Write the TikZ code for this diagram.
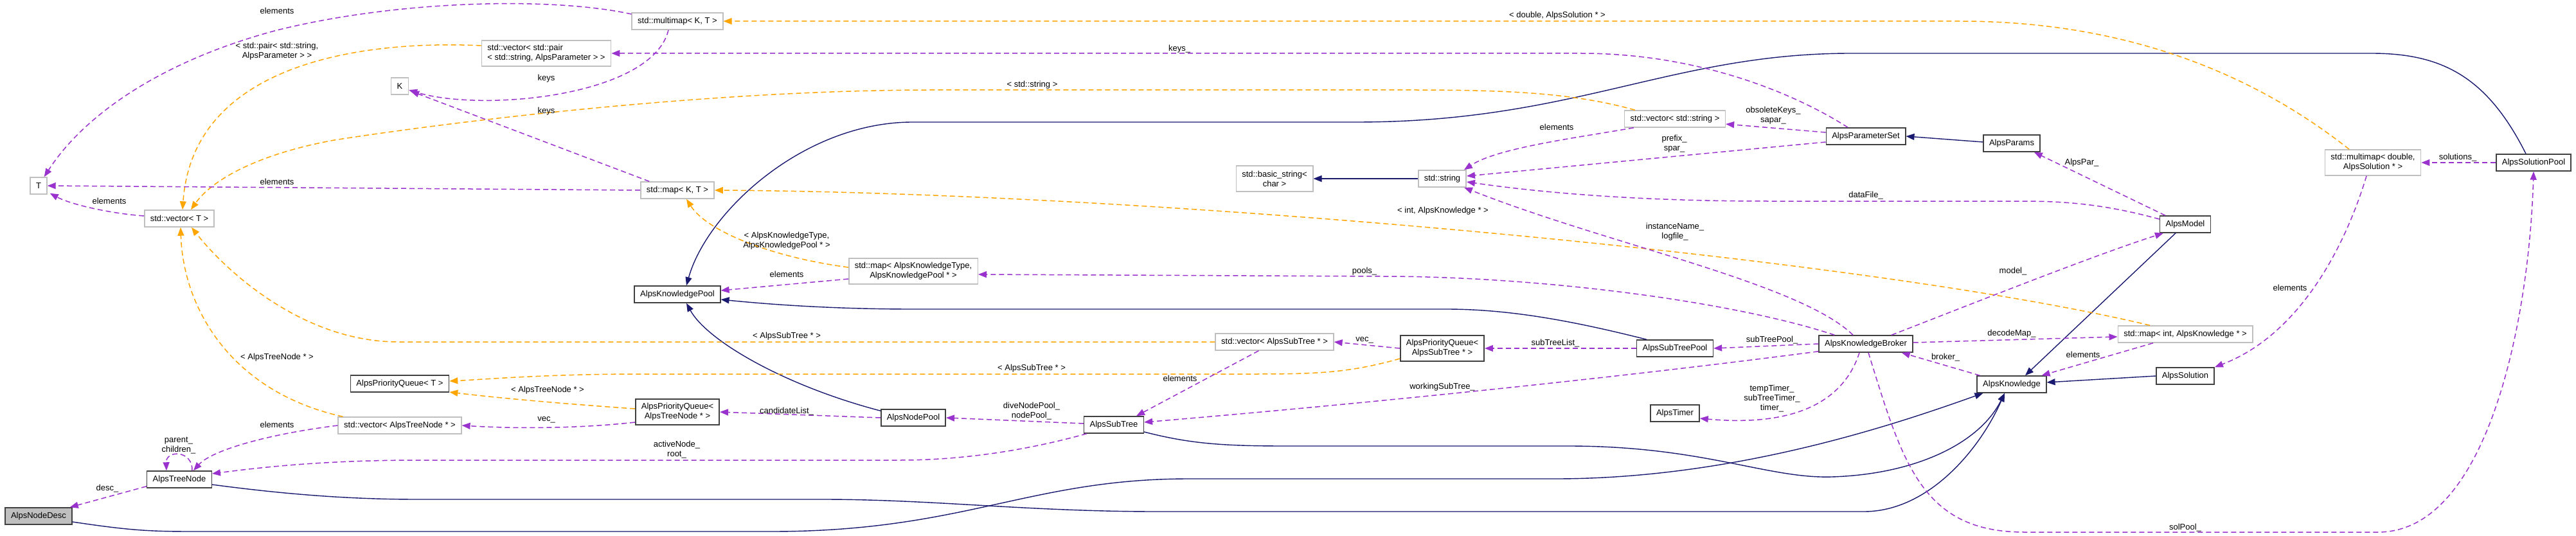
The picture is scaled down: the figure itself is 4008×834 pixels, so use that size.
\documentclass[tikz,border=0pt]{standalone}
\usepackage{fontspec}
\setmainfont{Liberation Sans}
\usetikzlibrary{arrows.meta,calc}
\definecolor{membcol}{HTML}{9A32CD}
\definecolor{instcol}{HTML}{FFA500}
\definecolor{inhcol}{HTML}{191970}
\definecolor{tmplline}{HTML}{BFBFBF}
\tikzset{
  txt/.style={font=\fontsize{6.5}{7.5}\selectfont},
  cls/.style={txt, draw=black!75, line width=0.75pt, fill=white, minimum height=13pt, inner xsep=4.5pt, inner ysep=1pt},
  tmpl/.style={cls, draw=tmplline},
  rootcls/.style={cls, fill=tmplline},
  twoline/.style={align=center, minimum height=20pt},
  lbl/.style={txt, inner sep=0pt, align=center},
  memb/.style={draw=membcol, line width=0.75pt, dash pattern=on 4pt off 2.5pt, -{Triangle[length=6.5pt,width=5pt]}},
  inst/.style={draw=instcol, line width=0.75pt, dash pattern=on 4pt off 2.5pt, -{Triangle[length=6.5pt,width=5pt]}},
  inh/.style={draw=inhcol, line width=0.7pt, -{Triangle[length=6.5pt,width=5pt]}}
}
\begin{document}
\begin{tikzpicture}[x=0.5pt,y=-0.5pt]
        \useasboundingbox (0,0) rectangle (4008,834);
        %% classes and templates
        \node[tmpl] (T) at (60,289) {T};
        \node[tmpl] (vecT) at (279,340) {std::vector< T >};
        \node[tmpl] (K) at (622,134) {K};
        \node[tmpl, align=left, minimum height=20pt] (vecPair) at (850,83) {std::vector< std::pair\\< std::string, AlpsParameter > >};
        \node[tmpl] (mmapKT) at (1054,33) {std::multimap< K, T >};
        \node[tmpl] (mapKT) at (1054,296) {std::map< K, T >};
        \node[cls] (pqT) at (622,597) {AlpsPriorityQueue< T >};
        \node[tmpl] (vecTN) at (622,662) {std::vector< AlpsTreeNode * >};
        \node[cls] (treeNode) at (279,746) {AlpsTreeNode};
        \node[rootcls] (nodeDesc) at (60,803) {AlpsNodeDesc};
        \node[tmpl, twoline] (mapKTy) at (1421,422) {std::map< AlpsKnowledgeType,\\ AlpsKnowledgePool * >};
        \node[cls] (kPool) at (1054,458) {AlpsKnowledgePool};
        \node[cls, twoline] (pqTN) at (1054,641) {AlpsPriorityQueue<\\ AlpsTreeNode * >};
        \node[cls] (nodePool) at (1421,650) {AlpsNodePool};
        \node[cls] (subTree) at (1733,661) {AlpsSubTree};
        \node[tmpl] (vecST) at (1983,532) {std::vector< AlpsSubTree * >};
        \node[tmpl, twoline] (basicStr) at (1983,278) {std::basic\_string<\\ char >};
        \node[tmpl] (str) at (2244,278) {std::string};
        \node[tmpl] (vecStr) at (2606,185) {std::vector< std::string >};
        \node[cls] (paramSet) at (2903,212) {AlpsParameterSet};
        \node[cls, twoline] (pqST) at (2244,542) {AlpsPriorityQueue<\\ AlpsSubTree * >};
        \node[cls] (stPool) at (2606,542) {AlpsSubTreePool};
        \node[cls] (broker) at (2903,535) {AlpsKnowledgeBroker};
        \node[cls] (timer) at (2606,643) {AlpsTimer};
        \node[cls] (params) at (3130,223) {AlpsParams};
        \node[tmpl, twoline] (mmapD) at (3692,253) {std::multimap< double,\\ AlpsSolution * >};
        \node[cls] (solPool) at (3942,253) {AlpsSolutionPool};
        \node[cls] (model) at (3400,349) {AlpsModel};
        \node[tmpl] (mapInt) at (3400,520) {std::map< int, AlpsKnowledge * >};
        \node[cls] (know) at (3130,598) {AlpsKnowledge};
        \node[cls] (solution) at (3400,585) {AlpsSolution};
        %% inheritance
        \draw[inh] (str.west) -- (basicStr.east);
        \draw[inh] ($(params.west)+(0,-2)$) -- (paramSet.east);
        \draw[inh] (solution.west) -- ($(know.east)+(0,-3)$);
        \draw[inh] ($(model.south)+(-15,0)$) -- ($(know.north)+(21,0)$);
        \draw[inh] ($(solPool.north)+(-12,0)$) .. controls (3870,120) and (3800,83) .. (3690,83) -- (2880,83) .. controls (2600,83) and (2450,190) .. (2110,190) -- (1420,190) .. controls (1250,190) and (1100,330) .. ($(kPool.north)+(14,0)$);
        \draw[inh] ($(stPool.north west)+(16,0)$) .. controls (2450,500) and (2350,481) .. (2250,481) -- (1420,481) .. controls (1300,481) and (1200,474) .. ($(kPool.east)+(0,8)$);
        \draw[inh] ($(nodePool.north west)+(0,3)$) .. controls (1220,600) and (1100,530) .. ($(kPool.south)+(14,0)$);
        \draw[inh] ($(subTree.east)+(0,11)$) .. controls (1850,690) and (1900,694) .. (2000,694) -- (2440,694) .. controls (2650,694) and (2750,745) .. (2850,742) .. controls (2980,738) and (3080,690) .. ($(know.south)+(-11,0)$);
        \draw[inh] ($(treeNode.east)+(0,8)$) .. controls (450,770) and (550,777) .. (650,777) -- (1280,777) .. controls (1450,777) and (1600,796) .. (1800,796) -- (2900,796) .. controls (3000,796) and (3080,700) .. ($(know.south)+(-11,0)$);
        \draw[inh] ($(nodeDesc.east)+(0,9)$) .. controls (200,825) and (230,827) .. (300,827) -- (1200,827) .. controls (1500,827) and (1600,745) .. (1850,745) -- (2420,745) .. controls (2700,745) and (2950,660) .. ($(know.south west)+(10,0)$);
        %% template instances
        \draw[inst] ($(vecPair.west)+(0,-12)$) .. controls (560,62) and (300,100) .. ($(vecT.north)+(5,0)$);
        \node[lbl] (lPair) at (431,80) {< std::pair< std::string,\\ AlpsParameter > >};
        \draw[inst] ($(vecStr.north west)+(17,0)$) .. controls (2450,145) and (2350,140) .. (2200,140) -- (1450,140) .. controls (1100,140) and (700,190) .. (520,218) .. controls (400,240) and (330,280) .. ($(vecT.north)+(18,0)$);
        \node[lbl] (lStr) at (1606,132) {< std::string >};
        \draw[inst] ($(vecTN.north west)+(8,0)$) .. controls (360,610) and (285,480) .. ($(vecT.south)+(2,0)$);
        \node[lbl] (lTN) at (431,556) {< AlpsTreeNode * >};
        \draw[inst] (vecST.west) -- (620,532) .. controls (470,532) and (350,420) .. ($(vecT.south)+(19,0)$);
        \node[lbl] (lST) at (1224,523) {< AlpsSubTree * >};
        \draw[inst] ($(mapKTy.west)+(0,-6)$) .. controls (1200,400) and (1100,360) .. ($(mapKT.south)+(14,0)$);
        \node[lbl] (lKTy) at (1224,375) {< AlpsKnowledgeType,\\ AlpsKnowledgePool * >};
        \draw[inst] ($(mapInt.north)+(-55,0)$) .. controls (2900,400) and (1800,300) .. (mapKT.east);
        \node[lbl] (lInt) at (2245,328) {< int, AlpsKnowledge * >};
        \draw[inst] ($(mmapD.north)+(-37,0)$) .. controls (3500,110) and (3300,33) .. (3050,33) -- (mmapKT.east);
        \node[lbl] (lDbl) at (2423,24) {< double, AlpsSolution * >};
        \draw[inst] ($(pqTN.west)+(0,-5)$) .. controls (900,630) and (780,620) .. ($(pqT.east)+(0,13)$);
        \node[lbl] (lPqTN) at (852,607) {< AlpsTreeNode * >};
        \draw[inst] ($(pqST.west)+(0,16)$) .. controls (2100,580) and (2050,582) .. (1950,582) -- (1000,582) .. controls (850,582) and (760,590) .. ($(pqT.east)+(0,-4)$);
        \node[lbl] (lPqST) at (1605,573) {< AlpsSubTree * >};
        %% members
        \draw[memb] ($(mmapKT.west)+(0,-11)$) .. controls (860,-5) and (620,0) .. (431,47) .. controls (250,95) and (130,180) .. ($(T.north east)+(-5,0)$);
        \node[lbl] (lMmT) at (431,17) {elements};
        \draw[memb] ($(mmapKT.south)+(-14,0)$) .. controls (1015,150) and (750,175) .. ($(K.east)+(0,6)$);
        \node[lbl] (lMmK) at (850,122) {keys};
        \draw[memb] (mapKT.west) -- (T.east);
        \node[lbl] (lMapT) at (431,283) {elements};
        \draw[memb] ($(mapKT.north west)+(14,0)$) -- ($(K.south east)+(3,-6)$);
        \node[lbl] (lMapK) at (850,173) {keys};
        \draw[memb] ($(vecT.west)+(0,-4)$) .. controls (170,332) and (110,318) .. ($(T.south east)+(4,-2)$);
        \node[lbl] (lVecT) at (170,313) {elements};
        \draw[memb] ($(paramSet.north)+(-28,0)$) .. controls (2800,150) and (2650,83) .. (2460,83) -- (vecPair.east);
        \node[lbl] (lKeys) at (1835,76) {keys\_};
        \draw[memb] ($(paramSet.west)+(0,-6)$) -- ($(vecStr.east)+(0,8)$);
        \node[lbl] (lObs) at (2759,180) {obsoleteKeys\_\\sapar\_};
        \draw[memb] ($(paramSet.west)+(0,9)$) -- ($(str.east)+(0,-4)$);
        \node[lbl] (lPre) at (2605,224) {prefix\_\\spar\_};
        \draw[memb] ($(vecStr.south west)+(15,0)$) .. controls (2450,215) and (2330,230) .. ($(str.north east)+(-4,0)$);
        \node[lbl] (lVecStr) at (2422,198) {elements};
        \draw[memb] ($(model.west)+(0,-8)$) .. controls (3290,322) and (3230,313) .. (3150,313) -- (2750,313) .. controls (2550,313) and (2400,300) .. ($(str.east)+(0,5)$);
        \node[lbl] (lData) at (2903,304) {dataFile\_};
        \draw[memb] ($(broker.north)+(-20,0)$) .. controls (2800,440) and (2500,380) .. ($(str.south east)+(-4,0)$);
        \node[lbl] (lInst) at (2606,361) {instanceName\_\\logfile\_};
        \draw[memb] ($(model.north west)+(9,0)$) -- ($(params.south east)+(-10,0)$);
        \node[lbl] (lPar) at (3239,253) {AlpsPar\_};
        \draw[memb] (solPool.west) -- (mmapD.east);
        \node[lbl] (lSols) at (3824,245) {solutions\_};
        \draw[memb] ($(mmapD.south)+(-10,0)$) .. controls (3650,380) and (3580,520) .. (solution.north east);
        \node[lbl] (lSolEl) at (3563,448) {elements};
        \draw[memb] ($(broker.north west)+(25,0)$) .. controls (2700,470) and (2400,430) .. (2150,430) -- ($(mapKTy.east)+(0,5)$);
        \node[lbl] (lPools) at (2123,422) {pools\_};
        \draw[memb] ($(mapKTy.west)+(0,12)$) -- ($(kPool.east)+(0,-6)$);
        \node[lbl] (lKPool) at (1224,427) {elements};
        \draw[memb] (broker.west) -- (stPool.east);
        \node[lbl] (lStp) at (2757,529) {subTreePool\_};
        \draw[memb] (stPool.west) -- (pqST.east);
        \node[lbl] (lStl) at (2420,534) {subTreeList\_};
        \draw[memb] (pqST.west) -- (vecST.east);
        \node[lbl] (lVecSt) at (2123,529) {vec\_};
        \draw[memb] ($(vecST.south west)+(68,0)$) -- ($(subTree.north)+(35,0)$);
        \node[lbl] (lStEl) at (1836,589) {elements};
        \draw[memb] ($(broker.south west)+(0,-2)$) .. controls (2500,590) and (2100,630) .. ($(subTree.east)+(0,-4)$);
        \node[lbl] (lWork) at (2244,602) {workingSubTree\_};
        \draw[memb] ($(broker.south)+(-10,0)$) .. controls (2870,620) and (2800,665) .. ($(timer.east)+(0,8)$);
        \node[lbl] (lTimer) at (2757,620) {tempTimer\_\\subTreeTimer\_\\timer\_};
        \draw[memb] ($(broker.north)+(40,0)$) .. controls (3050,480) and (3250,400) .. ($(model.south west)+(6,0)$);
        \node[lbl] (lModel) at (3132,422) {model\_};
        \draw[memb] ($(broker.east)+(0,-2)$) -- ($(mapInt.west)+(0,4)$);
        \node[lbl] (lDecode) at (3130,519) {decodeMap\_};
        \draw[memb] ($(know.north west)+(5,0)$) -- ($(broker.south east)+(-18,0)$);
        \node[lbl] (lBroker) at (3027,556) {broker\_};
        \draw[memb] ($(mapInt.south)+(-50,0)$) -- ($(know.north east)+(-8,0)$);
        \node[lbl] (lKnowEl) at (3241,552) {elements};
        \draw[memb] ($(broker.south)+(4,0)$) .. controls (2960,720) and (2990,828) .. (3150,828) -- (3700,828) .. controls (3870,828) and (3935,500) .. (solPool.south);
        \node[lbl] (lSolPool) at (3400,821) {solPool\_};
        \draw[memb] ($(subTree.west)+(0,-2)$) -- (nodePool.east);
        \node[lbl] (lDive) at (1605,640) {diveNodePool\_\\nodePool\_};
        \draw[memb] (nodePool.west) -- (pqTN.east);
        \node[lbl] (lCand) at (1224,640) {candidateList\_};
        \draw[memb] ($(pqTN.west)+(0,16)$) .. controls (900,667) and (800,667) .. (vecTN.east);
        \node[lbl] (lVecTN) at (850,653) {vec\_};
        \draw[memb] (vecTN.west) .. controls (420,675) and (330,700) .. ($(treeNode.north)+(22,0)$);
        \node[lbl] (lTNEl) at (431,661) {elements};
        \draw[memb] ($(treeNode.north)+(20,0)$) .. controls (300,700) and (258,700) .. ($(treeNode.north)+(-20,0)$);
        \node[lbl] (lParent) at (278,693) {parent\_\\children\_};
        \draw[memb] ($(subTree.south west)+(5,0)$) .. controls (1600,700) and (1500,716) .. (1400,716) -- (650,716) .. controls (500,716) and (400,728) .. ($(treeNode.east)+(0,-9)$);
        \node[lbl] (lActive) at (1053,700) {activeNode\_\\root\_};
        \draw[memb] ($(treeNode.south west)+(0,-3)$) -- ($(nodeDesc.north east)+(-4,0)$);
        \node[lbl] (lDesc) at (167,760) {desc\_};
\end{tikzpicture}
\end{document}
